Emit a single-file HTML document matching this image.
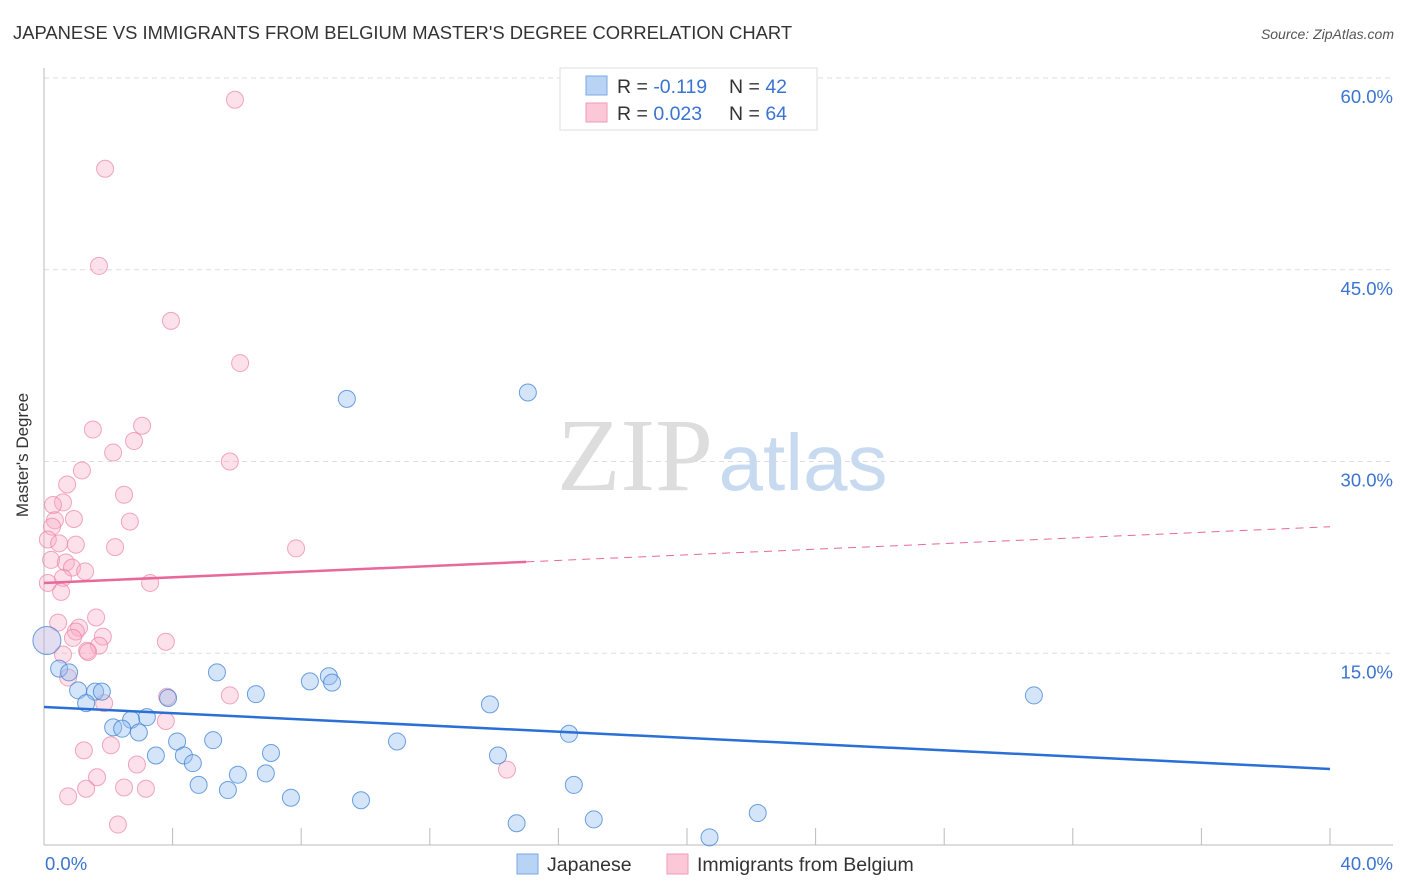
<!DOCTYPE html>
<html><head><meta charset="utf-8"><style>
body{margin:0;background:#fff;font-family:"Liberation Sans",sans-serif}
svg{display:block}
</style></head><body>
<svg width="1406" height="892" xmlns="http://www.w3.org/2000/svg" id="chart">
<text x="13" y="39" font-size="18.4" fill="#333">JAPANESE VS IMMIGRANTS FROM BELGIUM MASTER'S DEGREE CORRELATION CHART</text>
<text x="1394" y="39" font-size="14" fill="#555" font-style="italic" text-anchor="end">Source: ZipAtlas.com</text>
<g id="grid"></g>
<text x="635" y="490" font-size="104" fill="#ddd" font-family="Liberation Serif,serif" text-anchor="middle">ZIP</text>
<text x="803" y="490" font-size="80" fill="#c8daf0" text-anchor="middle">atlas</text>
<g id="axes"></g>
<g id="pts"></g>
<g id="lines"></g>
<text x="28" y="455" font-size="17" fill="#333" text-anchor="middle" transform="rotate(-90 28 455)">Master's Degree</text>
<g>
<rect x="560" y="68" width="257" height="62" fill="#fff" stroke="#ddd"/>
<rect x="586" y="76" width="21" height="19" fill="#b9d3f5" stroke="#7aa7e6"/>
<rect x="586" y="103" width="21" height="19" fill="#fbc8d8" stroke="#f09ab5"/>
<text x="617" y="93" font-size="19.5" fill="#333">R = <tspan fill="#3a74d0">-0.119</tspan></text>
<text x="729" y="93" font-size="19.5" fill="#333">N = <tspan fill="#3a74d0">42</tspan></text>
<text x="617" y="120" font-size="19.5" fill="#333">R = <tspan fill="#3a74d0">0.023</tspan></text>
<text x="729" y="120" font-size="19.5" fill="#333">N = <tspan fill="#3a74d0">64</tspan></text>
</g>
<g>
<rect x="517" y="854" width="21" height="20" fill="#b9d3f5" stroke="#7aa7e6"/>
<text x="547" y="871" font-size="19.5" fill="#333">Japanese</text></g>
<g>
<rect x="667" y="854" width="21" height="20" fill="#fbc8d8" stroke="#f09ab5"/>
<text x="697" y="871" font-size="19.5" fill="#333">Immigrants from Belgium</text></g>
</svg>
<script>
const yTicks=[15,30,45,60];
const yTickLabels=["15.0%","30.0%","45.0%","60.0%"];
const xTickLabels=["0.0%","40.0%"];
const japX=[9.42,15.05,0.09,0.47,0.78,5.38,8.86,8.27,8.96,1.06,1.59,1.80,6.59,30.79,3.86,1.31,13.87,3.20,2.71,2.15,2.43,2.95,16.33,4.14,5.26,10.98,3.48,4.35,7.06,14.12,4.63,6.03,6.90,4.81,16.48,5.72,7.68,9.86,22.2,17.1,14.7,20.7];
const japY=[34.9,35.4,16.0,13.8,13.5,13.5,13.2,12.8,12.7,12.1,12.0,12.0,11.8,11.7,11.5,11.1,11.0,10.0,9.8,9.2,9.1,8.8,8.7,8.1,8.2,8.1,7.0,7.0,7.2,7.0,6.4,5.5,5.6,4.7,4.7,4.3,3.7,3.5,2.5,2.0,1.7,0.6];
const belX=[5.94,1.90,1.71,3.95,6.10,3.05,1.52,2.80,2.15,5.78,1.18,0.72,2.49,0.59,0.28,0.93,0.34,2.67,0.25,0.12,0.47,0.99,2.21,7.84,0.22,0.68,0.87,1.28,0.59,3.30,0.12,0.53,1.62,0.44,1.09,0.99,1.83,0.90,3.79,1.71,1.34,1.37,0.59,0.75,1.87,3.83,5.78,3.79,2.08,1.24,2.89,14.4,1.65,2.49,3.17,1.31,0.75,2.30];
const belY=[58.3,52.9,45.3,41.0,37.7,32.8,32.5,31.6,30.7,30.0,29.3,28.2,27.4,26.8,26.6,25.5,25.4,25.3,24.9,23.9,23.6,23.5,23.3,23.2,22.3,22.1,21.7,21.4,20.9,20.5,20.5,19.8,17.8,17.4,17.0,16.7,16.3,16.2,15.9,15.6,15.2,15.1,14.9,13.1,11.1,11.6,11.7,9.7,7.8,7.4,6.3,5.9,5.3,4.5,4.4,4.4,3.8,1.6];
const japTrend=[10.8,5.95];
const belTrend=[20.5,24.9];
const belSolidEnd=15.0;
const X=v=>44+v/40*1286, Y=v=>845-v/60*767;
const NS="http://www.w3.org/2000/svg";
function mk(t,a,p){const e=document.createElementNS(NS,t);for(const k in a)e.setAttribute(k,a[k]);p.appendChild(e);return e;}
const grid=document.getElementById('grid'),axes=document.getElementById('axes'),pts=document.getElementById('pts'),lines=document.getElementById('lines');
yTicks.forEach((t,i)=>{
 const g=mk('line',{x1:44,x2:1393,y1:Y(t),y2:Y(t),stroke:'#ddd','stroke-dasharray':'5,4'},grid);
 
 
 const tx=mk('text',{x:1393,y:Y(t)+25,'font-size':18.5,fill:'#3a74d0','text-anchor':'end'},axes);tx.textContent=yTickLabels[i];
 
 
});
mk('line',{x1:44,x2:44,y1:68,y2:845,stroke:'#bbb'},axes);
mk('line',{x1:44,x2:1393,y1:845,y2:845,stroke:'#bbb'},axes);
for(let i=0;i<=10;i++){const l=mk('line',{x1:X(i*4),x2:X(i*4),y1:828,y2:845,stroke:'#bbb'},axes);
 
 }
[[0,45,'start'],[40,1393,'end']].forEach((d,i)=>{const t=mk('text',{x:d[1],y:870,'font-size':18.5,fill:'#3a74d0','text-anchor':d[2]},axes);t.textContent=xTickLabels[i];
 
 });
belX.forEach((x,i)=>{const c=mk('circle',{cx:X(x),cy:Y(belY[i]),r:8.5,fill:'rgba(248,170,195,0.35)',stroke:'rgba(236,130,165,0.7)','stroke-width':1},pts);
 
 });
japX.forEach((x,i)=>{const c=mk('circle',{cx:X(x),cy:Y(japY[i]),r:i==2?14:8.5,fill:i==2?'rgba(190,180,225,0.45)':'rgba(150,190,240,0.4)',stroke:'rgba(60,130,215,0.75)','stroke-width':1},pts);
 
 });
const bm=belTrend[0]+(belTrend[1]-belTrend[0])*belSolidEnd/40;
let l=mk('line',{x1:X(0),y1:Y(belTrend[0]),x2:X(belSolidEnd),y2:Y(bm),stroke:'#e8689a','stroke-width':2.5},lines);


l=mk('line',{x1:X(belSolidEnd),y1:Y(bm),x2:X(40),y2:Y(belTrend[1]),stroke:'#e8689a','stroke-width':1,'stroke-dasharray':'8,6'},lines);


l=mk('line',{x1:X(0),y1:Y(japTrend[0]),x2:X(40),y2:Y(japTrend[1]),stroke:'#2a6fd6','stroke-width':2.5},lines);


</script>
</body></html>
